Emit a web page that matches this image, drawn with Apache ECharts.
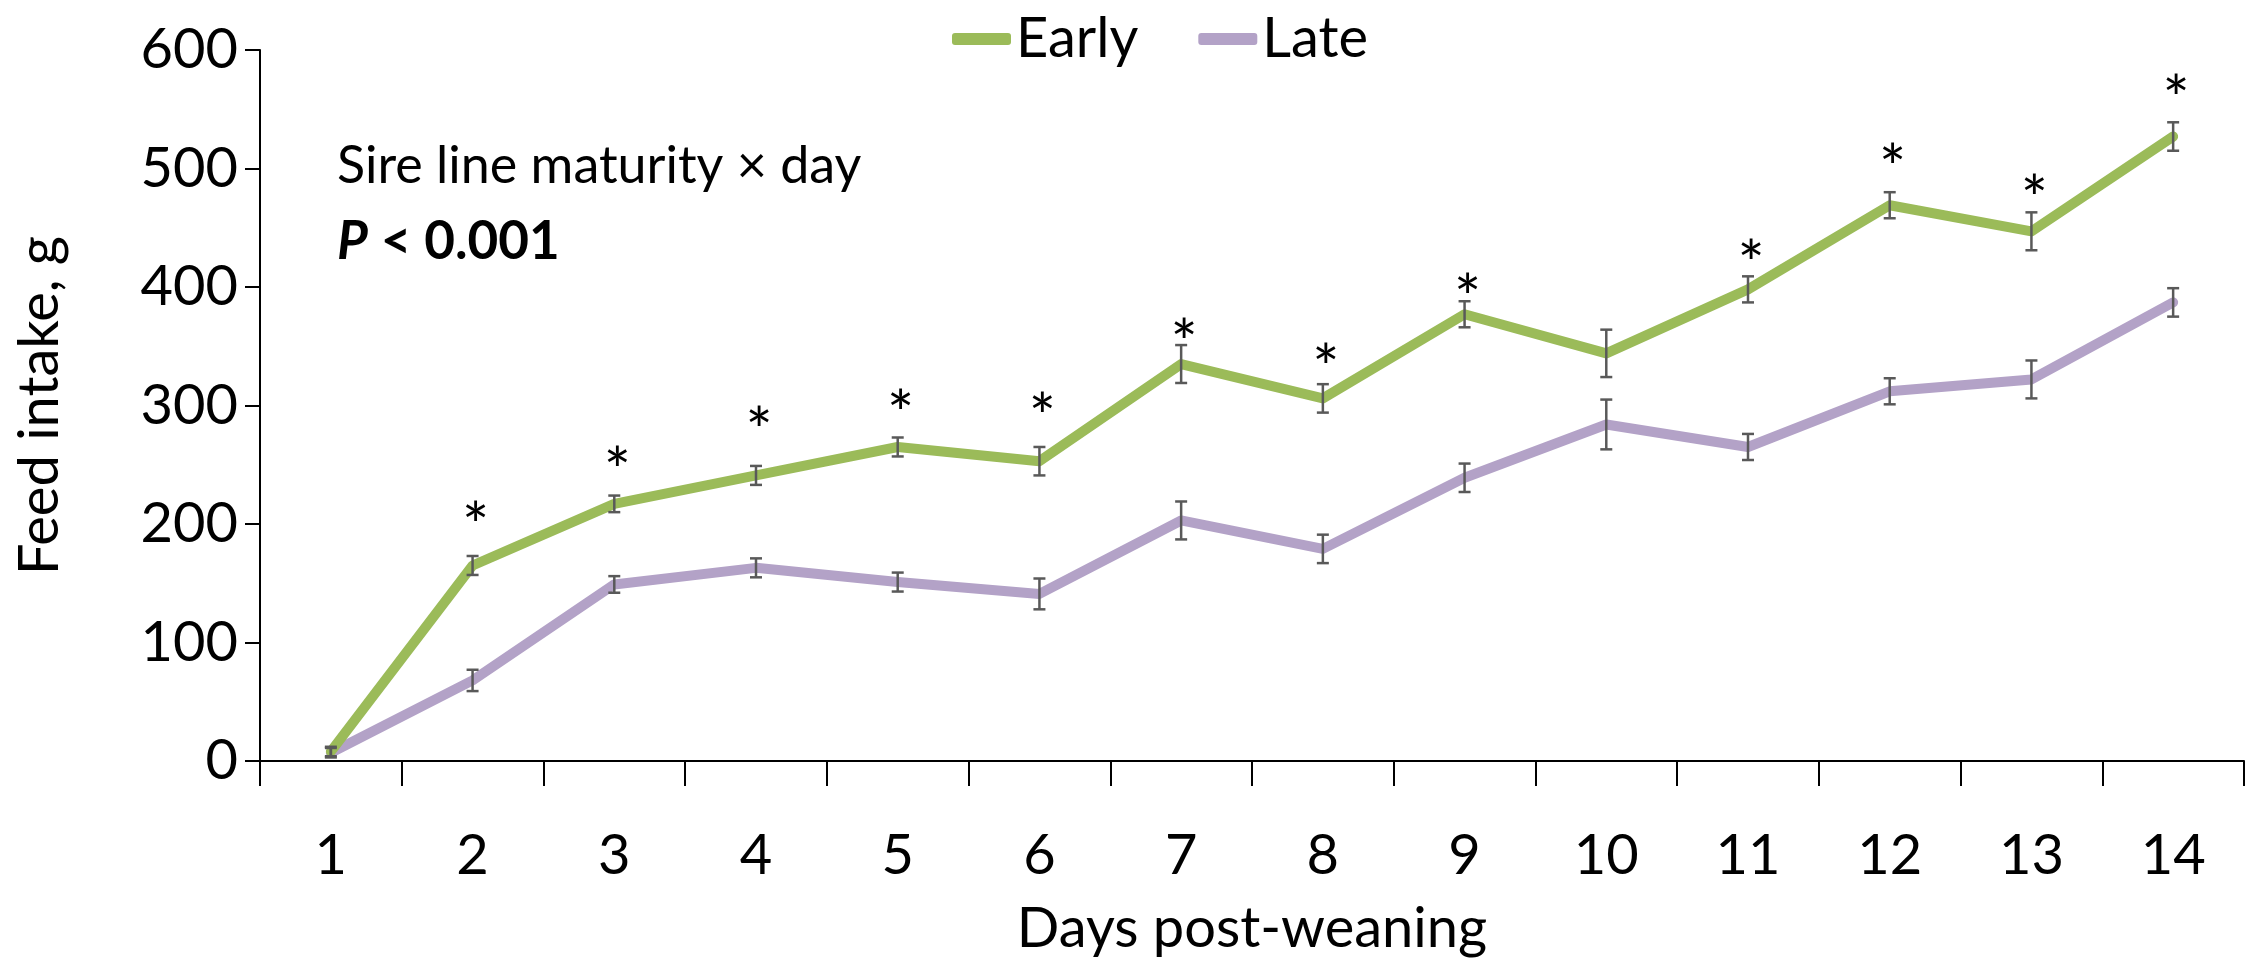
<!DOCTYPE html>
<html><head><meta charset="utf-8">
<script src="https://cdn.jsdelivr.net/npm/echarts@6/dist/echarts.min.js"></script>
<style>html,body{margin:0;padding:0;background:#fff}#c{width:2251px;height:962px}</style>
</head><body><div id="c"></div>
<script>
const days = ['1','2','3','4','5','6','7','8','9','10','11','12','13','14'];
const early   = [8, 165, 217, 241, 265, 253, 335, 306, 377, 344, 398, 469, 447, 527];
const earlySE = [4, 8, 7, 8, 8, 12, 16, 12, 11, 20, 11, 11, 16, 12];
const late    = [7, 68, 149, 163, 151, 141, 203, 179, 239, 284, 265, 312, 322, 387];
const lateSE  = [4, 9, 7, 8, 8, 13, 16, 12, 12, 21, 11, 11, 16, 12];
// positions (in g) of the significance asterisks, null = not significant
const asteriskAt = [null, 210, 256, 290, 304, 302, 364, 343, 402, null, 431, 512, 486, 570];
const yMin = 0, yMax = 600, yStep = 100;

const FONT = 'Lato';
const chart = echarts.init(document.getElementById('c'));

function errorSeries(name, means, ses) {
  return {
    type: 'custom', name: name + ' SE', silent: true, z: 5,
    data: days.map((d, i) => [i, means[i] - ses[i], means[i] + ses[i]]),
    encode: { x: 0, y: [1, 2] },
    renderItem: function (params, api) {
      const x = api.value(0);
      const lo = api.coord([x, api.value(1)]);
      const hi = api.coord([x, api.value(2)]);
      const w = 6;
      const st = { stroke: '#595959', lineWidth: 2.5 };
      return { type: 'group', children: [
        { type: 'line', shape: { x1: lo[0], y1: lo[1], x2: hi[0], y2: hi[1] }, style: st },
        { type: 'line', shape: { x1: lo[0] - w, y1: lo[1], x2: lo[0] + w, y2: lo[1] }, style: st },
        { type: 'line', shape: { x1: hi[0] - w, y1: hi[1], x2: hi[0] + w, y2: hi[1] }, style: st }
      ]};
    }
  };
}

const option = {
  backgroundColor: '#fff',
  animation: false,
  textStyle: { fontFamily: FONT, color: '#000' },
  grid: { left: 260, right: 7, top: 50, bottom: 194, containLabel: false },
  legend: {
    data: ['Early', 'Late'], left: 947, top: 6,
    icon: 'roundRect',
    itemWidth: 59, itemHeight: 12, itemGap: 60,
    textStyle: { fontFamily: FONT, fontSize: 56, color: '#000' }
  },
  xAxis: {
    type: 'category', data: days,
    name: 'Days post-weaning', nameLocation: 'middle', nameGap: 140,
    nameTextStyle: { fontFamily: FONT, fontSize: 56, color: '#000' },
    axisLine: { lineStyle: { color: '#000', width: 2 } },
    axisTick: { show: true, interval: 0, length: 25, lineStyle: { color: '#000', width: 2 } },
    axisLabel: { fontFamily: FONT, fontSize: 56, color: '#000', margin: 67, interval: 0 },
    splitLine: { show: false }
  },
  yAxis: {
    type: 'value', min: yMin, max: yMax, interval: yStep,
    name: 'Feed intake, g', nameLocation: 'middle', nameGap: 192,
    nameTextStyle: { fontFamily: FONT, fontSize: 56, color: '#000' },
    axisLine: { show: true, lineStyle: { color: '#000', width: 2 } },
    axisTick: { show: true, length: 15, lineStyle: { color: '#000', width: 2 } },
    axisLabel: { fontFamily: FONT, fontSize: 56, color: '#000', margin: 22 },
    splitLine: { show: false }
  },
  graphic: [
    { type: 'text', left: 337, top: 140, style: { text: 'Sire line maturity \u00d7 day', font: '52px ' + FONT, fill: '#000' } },
    { type: 'text', left: 337, top: 215, style: {
        text: '{p|P}{r| < 0.001}',
        rich: {
          p: { fontFamily: FONT, fontSize: 53, fontWeight: 'bold', fontStyle: 'italic', fill: '#000' },
          r: { fontFamily: FONT, fontSize: 53, fontWeight: 'bold', fill: '#000' }
        }
    } }
  ],
  series: [
    { name: 'Early', type: 'line', data: early, symbol: 'none', showSymbol: false, z: 3,
      color: '#9BBB59', lineStyle: { width: 10, color: '#9BBB59', cap: 'round', join: 'round' } },
    { name: 'Late', type: 'line', data: late, symbol: 'none', showSymbol: false, z: 2,
      color: '#B3A2C7', lineStyle: { width: 10, color: '#B3A2C7', cap: 'round', join: 'round' } },
    errorSeries('Early', early, earlySE),
    errorSeries('Late', late, lateSE),
    { name: 'sig', type: 'custom', silent: true, z: 6,
      data: asteriskAt.map((v, i) => [i, v]).filter(d => d[1] != null),
      encode: { x: 0, y: 1 },
      renderItem: function (params, api) {
        const p = api.coord([api.value(0), api.value(1)]);
        return { type: 'text', x: p[0] + 3, y: p[1] + 16,
          style: { text: '*', font: '64px ' + FONT, fill: '#000', align: 'center', verticalAlign: 'middle' } };
      }
    }
  ]
};
chart.setOption(option);
</script>
</body></html>
